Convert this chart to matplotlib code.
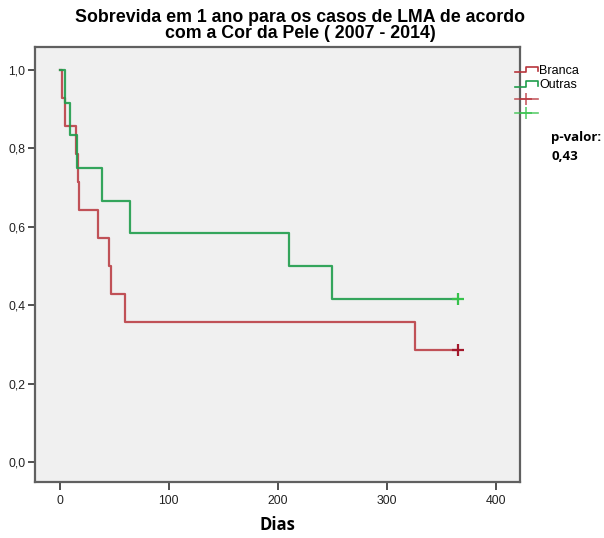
import matplotlib
matplotlib.use("Agg")
import matplotlib.pyplot as plt
from matplotlib.lines import Line2D
from matplotlib.legend_handler import HandlerBase

# Kaplan-Meier estimates
branca_t = [0, 2, 4.6, 15, 17, 18, 35, 45, 47, 60, 326, 365]
branca_s = [1.0, 0.929, 0.857, 0.786, 0.714, 0.643, 0.571, 0.5, 0.429, 0.357, 0.286, 0.286]
outras_t = [0, 4.6, 10, 16, 39, 65, 210, 250, 365]
outras_s = [1.0, 0.917, 0.833, 0.75, 0.667, 0.583, 0.5, 0.417, 0.417]

# censored points (end of follow-up)
branca_cens_t = [365]
branca_cens_s = [0.286]
outras_cens_t = [365]
outras_cens_s = [0.417]

groups = ["Branca", "Outras"]
xticks = [0, 100, 200, 300, 400]
yticks = [0.0, 0.2, 0.4, 0.6, 0.8, 1.0]
ytick_labels = ["0,0", "0,2", "0,4", "0,6", "0,8", "1,0"]
title_lines = ["Sobrevida em 1 ano para os casos de LMA de acordo",
               "com a Cor da Pele ( 2007 - 2014)"]

red = "#b8353c"
green = "#1f9d4c"
red_c = "#a3182b"
green_c = "#36c24b"

plt.rcParams["font.family"] = ["Liberation Sans", "DejaVu Sans"]


class StepHandler(HandlerBase):
    # little step symbol like in SPSS legends
    def create_artists(self, legend, orig_handle, xdescent, ydescent,
                       width, height, fontsize, trans):
        x0 = -xdescent
        y0 = -ydescent
        xs = [x0, x0 + 0.5 * width, x0 + 0.5 * width, x0 + width, x0 + width]
        ys = [y0 + 0.2 * height, y0 + 0.2 * height, y0 + 0.85 * height,
              y0 + 0.85 * height, y0 + 0.3 * height]
        ln = Line2D(xs, ys, color=orig_handle.get_color(), lw=1.2, transform=trans)
        return [ln]


fig = plt.figure(figsize=(6.04, 5.38), dpi=100)
ax = fig.add_axes([35 / 604, 1 - 482 / 538, 485 / 604, 435 / 538])
ax.set_facecolor("#f0f0f0")

l1, = ax.step(branca_t, branca_s, where="post", color=red, lw=1.6, alpha=0.85)
l2, = ax.step(outras_t, outras_s, where="post", color=green, lw=1.6, alpha=0.9)
c1, = ax.plot(branca_cens_t, branca_cens_s, "+", color=red_c, ms=8, mew=1.6)
c2, = ax.plot(outras_cens_t, outras_cens_s, "+", color=green_c, ms=8, mew=1.6)

ax.set_xlim(-22.5, 422)
ax.set_ylim(-0.051, 1.0587)
ax.set_xticks(xticks)
ax.set_yticks(yticks)
ax.set_yticklabels(ytick_labels)
for s in ax.spines.values():
    s.set_color("#606060")
    s.set_linewidth(1.6)
ax.tick_params(axis="both", direction="out", color="#505050", width=1.4,
               labelsize=8.8, labelcolor="#222222")
ax.tick_params(axis="y", length=5, pad=2)
ax.tick_params(axis="x", length=6, pad=3)

ax.set_xlabel("Dias", fontsize=12, fontweight="bold", family="Open Sans", labelpad=7)

# two-line title, one text per line
fig.text(300 / 604, 1 - 22 / 538, title_lines[0], ha="center", va="baseline",
         fontsize=12.8, fontweight="bold")
fig.text(300 / 604, 1 - 37.5 / 538, title_lines[1], ha="center", va="baseline",
         fontsize=12.8, fontweight="bold")

h1 = Line2D([], [], color=red)
h2 = Line2D([], [], color=green)
h3 = Line2D([], [], color=red, marker="+", ms=9, mew=1.2, lw=1.2, alpha=0.8)
h4 = Line2D([], [], color=green_c, marker="+", ms=9, mew=1.2, lw=1.2, alpha=0.8)
leg = fig.legend([h1, h2, h3, h4], groups + ["", ""],
                 handler_map={h1: StepHandler(), h2: StepHandler()},
                 loc="upper left", bbox_to_anchor=(515 / 604, 1 - 65 / 538),
                 frameon=False, borderpad=0, borderaxespad=0, handlelength=1.8,
                 handletextpad=0.15, labelspacing=0.2,
                 prop={"size": 9}, numpoints=1)

fig.text(551 / 604, 1 - 137 / 538, "p-valor:", ha="left", va="center",
         fontsize=9.5, fontweight="bold", family="Open Sans")
fig.text(551 / 604, 1 - 157 / 538, "0,43", ha="left", va="center",
         fontsize=9.5, fontweight="bold", family="Open Sans")

fig.savefig("out.png", dpi=100)
